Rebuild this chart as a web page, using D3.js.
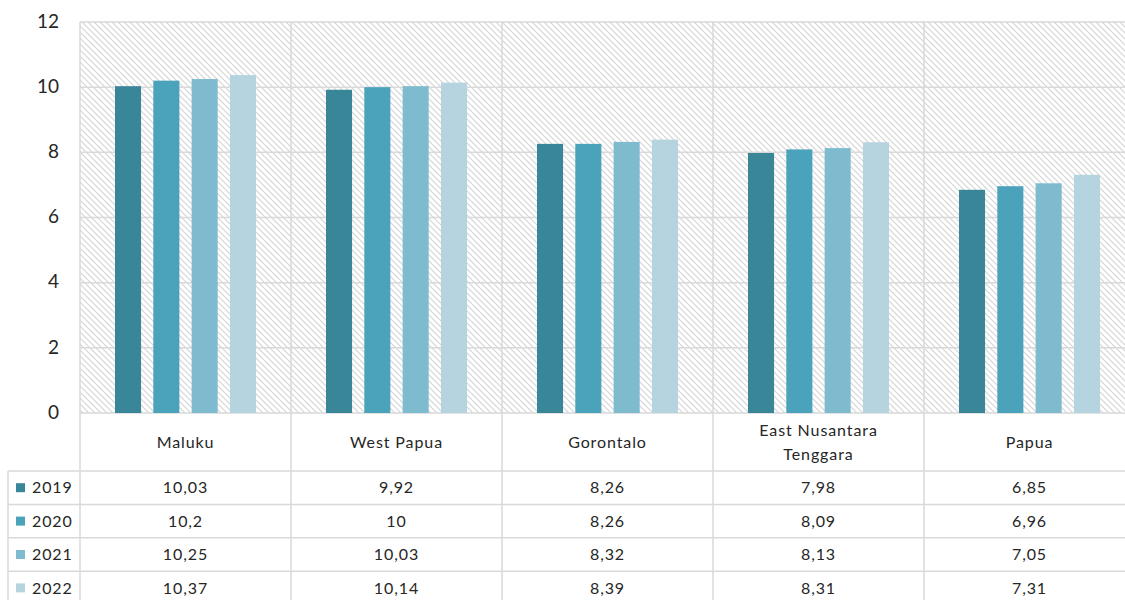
<!DOCTYPE html>
<html><head><meta charset="utf-8">
<script src="https://cdn.jsdelivr.net/npm/d3@7"></script>
<style>html,body{margin:0;padding:0;background:#fff;}svg{display:block;font-family:Lato,"Open Sans",sans-serif;}</style>
</head><body>
<svg id="c" width="1125" height="600"></svg>
<script>
const categories = ["Maluku","West Papua","Gorontalo","East Nusantara Tenggara","Papua"];
const categoryLines = [["Maluku"],["West Papua"],["Gorontalo"],["East Nusantara","Tenggara"],["Papua"]];
const years = ["2019","2020","2021","2022"];
const v2019 = [10.03, 9.92, 8.26, 7.98, 6.85];
const v2020 = [10.2, 10, 8.26, 8.09, 6.96];
const v2021 = [10.25, 10.03, 8.32, 8.13, 7.05];
const v2022 = [10.37, 10.14, 8.39, 8.31, 7.31];
const yTicks = [0,2,4,6,8,10,12];
const colors = ["#3a8699","#4aa3bb","#7fbbcf","#b5d4df"];

const seriesVals = [v2019, v2020, v2021, v2022];
const fmt = v => String(v).replace(".", ",");

const svg = d3.select("#c");
const plotL = 80, plotR = 1135, plotT = 22, plotB = 413;
const rowH = 33.4, headerBottom = 471, legendLeft = 8;
const textCol = "#262626";

const x = d3.scaleBand().domain(categories).range([plotL, plotR]).paddingInner(0).paddingOuter(0);
const xi = d3.scaleBand().domain(years).range([35, x.bandwidth() - 35]).paddingInner(0.32).paddingOuter(0);
const y = d3.scaleLinear().domain([0, 12]).range([plotB, plotT]);

// hatch pattern
const defs = svg.append("defs");
const pat = defs.append("pattern").attr("id","hatch").attr("patternUnits","userSpaceOnUse")
  .attr("width",6).attr("height",6);
pat.append("rect").attr("width",6).attr("height",6).attr("fill","#fff");
pat.append("path").attr("d","M-1,-1 L7,7 M-1,5 L1,7 M5,-1 L7,1").attr("stroke","#d4d4d4").attr("stroke-width",1.1);

svg.append("rect").attr("x",plotL).attr("y",plotT).attr("width",plotR-plotL).attr("height",plotB-plotT).attr("fill","url(#hatch)");

// gridlines
svg.append("g").selectAll("line").data(yTicks).join("line")
  .attr("x1",plotL).attr("x2",plotR).attr("y1",d=>y(d)).attr("y2",d=>y(d))
  .attr("stroke","#d9d9d9").attr("stroke-width",1.5);

// y axis labels
const yAxis = d3.axisLeft(y).tickValues(yTicks).tickSize(0).tickPadding(0).tickFormat(d3.format("d"));
const ya = svg.append("g").attr("transform",`translate(59,0)`).call(yAxis);
ya.select(".domain").remove();
ya.selectAll("text").attr("font-size",19).attr("fill",textCol).attr("font-family","Lato, sans-serif").attr("dy","0.28em");

// vertical lines (category boundaries) through plot and table
const bounds = categories.map(c => x(c)).concat([plotR]);
svg.append("g").selectAll("line").data(bounds).join("line")
  .attr("x1",d=>d).attr("x2",d=>d).attr("y1",plotT).attr("y2",600)
  .attr("stroke","#d9d9d9").attr("stroke-width",1.5);

// bars
const gBars = svg.append("g");
categories.forEach((c, ci) => {
  years.forEach((yr, si) => {
    const val = seriesVals[si][ci];
    gBars.append("rect")
      .attr("x", x(c) + xi(yr)).attr("width", xi.bandwidth())
      .attr("y", y(val)).attr("height", y(0) - y(val))
      .attr("fill", colors[si]);
  });
});

// table horizontal lines
const rowLines = d3.range(5).map(i => headerBottom + i*rowH);
svg.append("g").selectAll("line").data(rowLines).join("line")
  .attr("x1",legendLeft).attr("x2",plotR).attr("y1",d=>d).attr("y2",d=>d)
  .attr("stroke","#d9d9d9").attr("stroke-width",1.5);
svg.append("line").attr("x1",legendLeft).attr("x2",legendLeft).attr("y1",headerBottom).attr("y2",600)
  .attr("stroke","#d9d9d9").attr("stroke-width",1.5);

// category labels
const gCat = svg.append("g").attr("font-size",16).attr("letter-spacing","0.9px").attr("fill",textCol).attr("text-anchor","middle");
categories.forEach((c, ci) => {
  const lines = categoryLines[ci];
  const cx = x(c) + x.bandwidth()/2;
  const cy = (plotB + headerBottom)/2;
  lines.forEach((ln, li) => {
    gCat.append("text").attr("x",cx)
      .attr("y", cy + (li - (lines.length-1)/2)*24).attr("dy","0.35em").text(ln);
  });
});

// table values and legend
const gT = svg.append("g").attr("font-size",16).attr("letter-spacing","0.9px").attr("fill",textCol);
years.forEach((yr, si) => {
  const cy = headerBottom + si*rowH + rowH/2;
  gT.append("rect").attr("x",16).attr("y",cy-4.5).attr("width",9).attr("height",9).attr("fill",colors[si]);
  gT.append("text").attr("x",32).attr("y",cy).attr("dy","0.35em").text(yr);
  categories.forEach((c, ci) => {
    gT.append("text").attr("x", x(c)+x.bandwidth()/2).attr("y",cy).attr("dy","0.35em")
      .attr("text-anchor","middle").text(fmt(seriesVals[si][ci]));
  });
});
</script>
</body></html>
